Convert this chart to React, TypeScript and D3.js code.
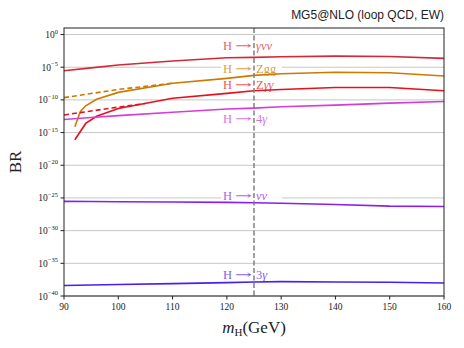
import React from "react";
import * as d3 from "d3";

const W = 464, H = 348;
const M = { left: 64, right: 444, top: 28, bottom: 296 };

const xTicks = [90, 100, 110, 120, 130, 140, 150, 160];
const yTickExps = [0, -5, -10, -15, -20, -25, -30, -35, -40];

// log10(BR) values
const massMain = [90, 95, 100, 110, 120, 125, 130, 140, 150, 160];
const gnnVals = [-5.54, -5.1, -4.67, -4.06, -3.56, -3.5, -3.4, -3.3, -3.36, -3.65];
const fourGVals = [-13.0, -12.7, -12.4, -11.9, -11.4, -11.26, -11.05, -10.8, -10.5, -10.25];
const nnVals = [-25.53, -25.55, -25.58, -25.63, -25.68, -25.73, -25.8, -26.0, -26.25, -26.3];
const threeGVals = [-38.4, -38.32, -38.25, -38.1, -37.96, -37.85, -37.8, -37.85, -37.9, -38.0];

const massZgg = [92, 93, 94, 96, 100, 110, 120, 125, 130, 140, 150, 160];
const zggVals = [-14.1, -11.8, -10.9, -9.9, -8.85, -7.46, -6.7, -6.25, -6.0, -5.78, -5.85, -6.35];
const massZggDash = [90, 100, 110];
const zggDashVals = [-9.65, -8.4, -7.45];

const massZaa = [92, 94, 96, 100, 110, 120, 125, 130, 140, 150, 160];
const zaaVals = [-16.1, -13.6, -12.5, -11.3, -9.75, -9.0, -8.6, -8.4, -8.1, -8.1, -8.6];
const massZaaDash = [90, 95, 100, 105];
const zaaDashVals = [-12.3, -11.7, -11.1, -10.55];

const labelMass = 119.3;
// product parts: [text, italic]
const labels: { prod: [string, boolean][]; y: number; color: string }[] = [
  { prod: [["γνν", true]], y: -1.75, color: "#d62738" },
  { prod: [["Zgg", false]], y: -5.25, color: "#cc7a00" },
  { prod: [["Z", false], ["γγ", true]], y: -7.6, color: "#e8101c" },
  { prod: [["4", false], ["γ", true]], y: -12.8, color: "#d63cd6" },
  { prod: [["νν", true]], y: -24.6, color: "#8a2be2" },
  { prod: [["3", false], ["γ", true]], y: -36.7, color: "#5520f0" },
];

export default function App() {
  const x = d3.scaleLinear().domain([90, 160]).range([M.left, M.right]);
  const y = d3.scaleLinear().domain([-40, 1]).range([M.bottom, M.top]);
  const line = (xs: number[], ys: number[]) =>
    d3.line<number>().x((_, i) => x(xs[i])).y((v) => y(v))(ys) || "";

  const series = [
    { d: line(massMain, gnnVals), c: "#d62738", dash: "" },
    { d: line(massZgg, zggVals), c: "#cc7a00", dash: "" },
    { d: line(massZggDash, zggDashVals), c: "#cc7a00", dash: "5,3" },
    { d: line(massZaa, zaaVals), c: "#e8101c", dash: "" },
    { d: line(massZaaDash, zaaDashVals), c: "#e8101c", dash: "5,3" },
    { d: line(massMain, fourGVals), c: "#d63cd6", dash: "" },
    { d: line(massMain, nnVals), c: "#8a1ef0", dash: "" },
    { d: line(massMain, threeGVals), c: "#4a1ef0", dash: "" },
  ];

  const serif = "'Liberation Serif', 'DejaVu Serif', serif";
  const lx = x(labelMass);

  return (
    <svg width={W} height={H} style={{ position: "absolute", left: 0, top: 0 }}>
      <rect width={W} height={H} fill="white" />
      {yTickExps.map((e) => (
        <line key={e} x1={M.left} x2={M.right} y1={y(e)} y2={y(e)} stroke="#c8c8c8" strokeWidth={1} />
      ))}
      {labels.map((l, i) => (
        <rect key={"r" + i} x={lx - 2} y={y(l.y) - 6.5} width={61} height={13} fill="white" fillOpacity={0.9} />
      ))}
      {series.map((s, i) => (
        <path key={i} d={s.d} fill="none" stroke={s.c} strokeWidth={1.6} strokeDasharray={s.dash || undefined} />
      ))}
      {labels.map((l, i) => (
        <g key={i} fill={l.color} fillOpacity={0.75} fontFamily={serif}>
          <text x={lx} y={y(l.y) + 4.3} fontSize={12.5}>H</text>
          <text x={lx + 12} y={y(l.y) + 4.3} fontSize={12.5} fontFamily="'DejaVu Serif', serif" textLength={17} lengthAdjust="spacingAndGlyphs">→</text>
          <text x={lx + 33} y={y(l.y) + 4.3} fontSize={12.5}>
            {l.prod.map(([t, it], j) => (
              <tspan key={j} fontStyle={it ? "italic" : "normal"}>{t}</tspan>
            ))}
          </text>
        </g>
      ))}
      <line x1={x(125)} x2={x(125)} y1={M.top} y2={M.bottom} stroke="#808080" strokeWidth={1.5} strokeDasharray="5,2.5" />
      <rect x={M.left} y={M.top} width={M.right - M.left} height={M.bottom - M.top} fill="none" stroke="#222" strokeWidth={1} />
      {xTicks.map((t) => (
        <g key={t}>
          <line x1={x(t)} x2={x(t)} y1={M.bottom} y2={M.bottom + 3.5} stroke="#222" />
          <text x={x(t)} y={M.bottom + 14} textAnchor="middle" fontFamily={serif} fontSize={9.5} fill="#222">{t}</text>
        </g>
      ))}
      {yTickExps.map((e) => (
        <g key={e}>
          <line x1={M.left} x2={M.left - 3.5} y1={y(e)} y2={y(e)} stroke="#222" />
          <text x={M.left - 6} y={y(e) + 3.5} textAnchor="end" fontFamily={serif} fontSize={9.5} fill="#222">
            10<tspan dy={-4.5} fontSize={6.5}>{e === 0 ? "0" : "−" + Math.abs(e)}</tspan>
          </text>
        </g>
      ))}
      <text x={17} y={(M.top + M.bottom) / 2} transform={`rotate(-90, 17, ${(M.top + M.bottom) / 2})`} textAnchor="middle" dominantBaseline="middle" fontFamily={serif} fontSize={17} fill="#222">BR</text>
      <text x={254} y={333} textAnchor="middle" fontFamily={serif} fontSize={17} fill="#222">
        <tspan fontStyle="italic">m</tspan>
        <tspan fontSize={11} dy={3}>H</tspan>
        <tspan dy={-3}>(GeV)</tspan>
      </text>
      <text x={M.right} y={19} textAnchor="end" fontFamily="'Liberation Sans', Arial, sans-serif" fontSize={12} fill="#222">MG5@NLO (loop QCD, EW)</text>
    </svg>
  );
}
